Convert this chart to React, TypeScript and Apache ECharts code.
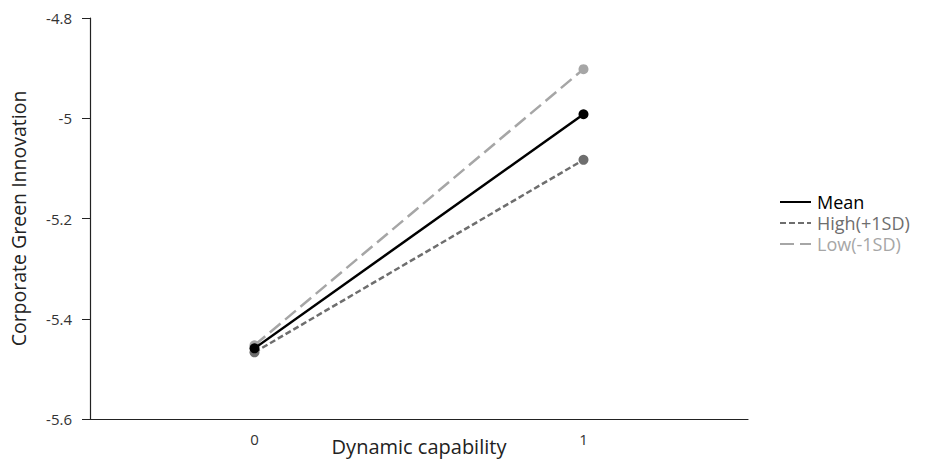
import React, { useEffect, useRef } from "react";
import * as echarts from "echarts";

const categories = ["0", "1"];
const meanValues = [-5.459, -4.992];
const highValues = [-5.467, -5.083];
const lowValues = [-5.453, -4.902];
const seriesNames = ["Mean", "High(+1SD)", "Low(-1SD)"];
const seriesColors = ["#000000", "#6e6e6e", "#a6a6a6"];

export default function App() {
  const ref = useRef<HTMLDivElement>(null);
  useEffect(() => {
    if (!ref.current) return;
    const chart = echarts.init(ref.current, undefined, { renderer: "svg" });
    const font = "'Open Sans', 'Noto Sans', sans-serif";
    chart.setOption({
      animation: false,
      textStyle: { fontFamily: font },
      grid: { left: 90, right: 184, top: 18, bottom: 44, containLabel: false, outerBoundsMode: "none" },
      legend: {
        orient: "vertical",
        left: 774,
        top: 188,
        itemWidth: 31,
        itemHeight: 10,
        itemGap: 3,
        data: seriesNames.map((n, i) => ({ name: n, textStyle: { color: seriesColors[i] } })),
        itemStyle: { opacity: 0 },
        textStyle: { fontSize: 18, fontFamily: font, lineHeight: 17, padding: [0, 0, 0, 1] },
      },
      xAxis: {
        type: "category",
        data: categories,
        boundaryGap: true,
        name: "Dynamic capability",
        nameLocation: "middle",
        nameGap: 17,
        nameMoveOverlap: false,
        nameTextStyle: { fontSize: 20, color: "#222" },
        axisLine: { lineStyle: { color: "#222", width: 1.2 } },
        axisTick: { alignWithLabel: true, length: 6, lineStyle: { color: "#222" } },
        axisLabel: { fontSize: 15, color: "#333", margin: 12 },
        splitLine: { show: false },
      },
      yAxis: {
        type: "value",
        min: -5.6,
        max: -4.8,
        interval: 0.2,
        name: "Corporate Green Innovation",
        nameLocation: "middle",
        nameGap: 62,
        nameMoveOverlap: false,
        nameTextStyle: { fontSize: 19.5, color: "#222" },
        axisLine: { show: true, lineStyle: { color: "#222", width: 1.2 } },
        axisTick: { show: true, length: 8, lineStyle: { color: "#222" } },
        axisLabel: {
          fontSize: 15,
          color: "#333",
          margin: 18,
          formatter: (v: number) => String(Math.round(v * 10) / 10),
        },
        splitLine: { show: false },
      },
      series: [
        {
          name: seriesNames[2],
          type: "line",
          data: lowValues,
          symbol: "circle",
          symbolSize: 10,
          itemStyle: { color: seriesColors[2] },
          lineStyle: { color: seriesColors[2], width: 2.5, type: [14, 6] },
          z: 2,
        },
        {
          name: seriesNames[1],
          type: "line",
          data: highValues,
          symbol: "circle",
          symbolSize: 10,
          itemStyle: { color: seriesColors[1] },
          lineStyle: { color: seriesColors[1], width: 2.5, type: [6, 3] },
          z: 3,
        },
        {
          name: seriesNames[0],
          type: "line",
          data: meanValues,
          symbol: "circle",
          symbolSize: 10,
          itemStyle: { color: seriesColors[0] },
          lineStyle: { color: seriesColors[0], width: 2.5 },
          z: 4,
        },
      ],
    });
    return () => chart.dispose();
  }, []);
  return <div ref={ref} style={{ width: 932, height: 463, position: "absolute", left: 0, top: 0 }} />;
}
